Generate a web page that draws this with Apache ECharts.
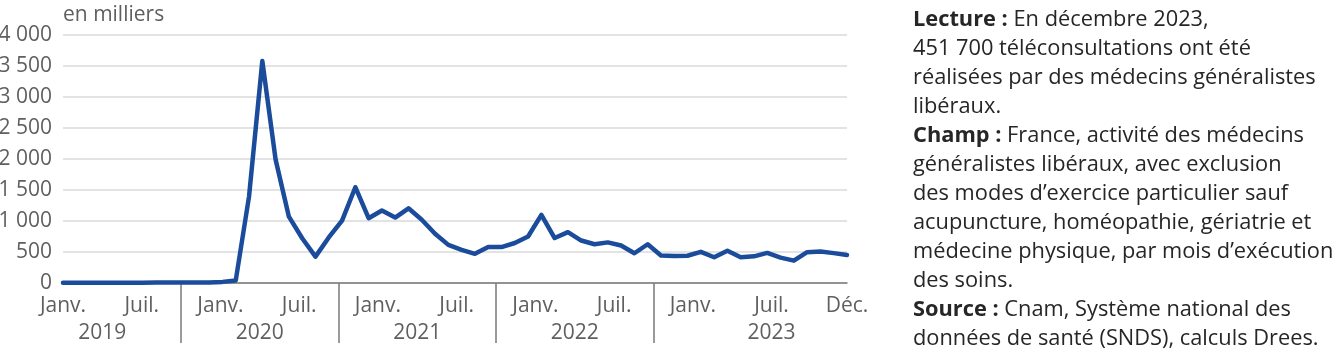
<!DOCTYPE html>
<html lang="fr">
<head>
<meta charset="utf-8">
<script src="https://cdn.jsdelivr.net/npm/echarts@6/dist/echarts.min.js"></script>
<style>
  html, body { margin: 0; padding: 0; background: #ffffff; }
  #chart { width: 1341px; height: 359px; }
</style>
</head>
<body>
<div id="chart"></div>
<script>
// ---- Data (téléconsultations des médecins généralistes libéraux, en milliers) ----
const years = ['2019', '2020', '2021', '2022', '2023'];
const monthNames = ['janv.', 'févr.', 'mars', 'avr.', 'mai', 'juin', 'juil.', 'août', 'sept.', 'oct.', 'nov.', 'déc.'];
const values2019 = [3, 4, 4, 5, 5, 6, 6, 7, 7, 8, 9, 10];
const values2020 = [18, 40, 1395, 3580, 1990, 1070, 722, 425, 735, 1005, 1545, 1045];
const values2021 = [1170, 1055, 1205, 1020, 795, 615, 535, 470, 580, 580, 645, 750];
const values2022 = [1100, 725, 820, 685, 625, 655, 605, 480, 625, 445, 435, 440];
const values2023 = [502, 415, 520, 415, 430, 485, 410, 360, 497, 507, 482, 452];
const monthTickLabels = ['Janv.', 'Juil.', 'Janv.', 'Juil.', 'Janv.', 'Juil.', 'Janv.', 'Juil.', 'Janv.', 'Juil.', 'Déc.'];
const yearTickLabels = ['2019', '2020', '2021', '2022', '2023'];
const yTickValues = [0, 500, 1000, 1500, 2000, 2500, 3000, 3500, 4000];
const unitLabel = 'en milliers';
const noteLines = [
  [['b', 'Lecture :'], ['t', ' En décembre 2023,']],
  [['t', '451 700 téléconsultations ont été']],
  [['t', 'réalisées par des médecins généralistes']],
  [['t', 'libéraux.']],
  [['b', 'Champ :'], ['t', ' France, activité des médecins']],
  [['t', 'généralistes libéraux, avec exclusion']],
  [['t', 'des modes d’exercice particulier sauf']],
  [['t', 'acupuncture, homéopathie, gériatrie et']],
  [['t', 'médecine physique, par mois d’exécution']],
  [['t', 'des soins.']],
  [['b', 'Source :'], ['t', ' Cnam, Système national des']],
  [['t', 'données de santé (SNDS), calculs Drees.']]
];

// ---- Build ----
const categories = [];
years.forEach(y => monthNames.forEach(m => categories.push(m + ' ' + y)));
const seriesValues = [].concat(values2019, values2020, values2021, values2022, values2023);

// Label axis layout (separate scale used only for tick-label placement)
const labelAxisMax = 59.75;
const monthLabelPos = [0, 6, 12, 18, 24, 30, 36, 42, 48, 54, labelAxisMax];
const yearLabelPos = [3, 15, 27, 39, 54];
const separatorPos = [9, 21, 33, 45];
const monthLabelMap = {};
monthLabelPos.forEach((p, i) => { monthLabelMap[p] = monthTickLabels[i]; });
const yearLabelMap = {};
yearLabelPos.forEach((p, i) => { yearLabelMap[p] = yearTickLabels[i]; });

const FONT = '"Open Sans", "Noto Sans", "DejaVu Sans", sans-serif';
const AXIS_COLOR = '#5f5f5f';
const LINE_COLOR = '#1b4c9c';
const AXIS_FS = 21;
const NOTE_FS = 21.8;

const noteText = noteLines.map(parts => parts.map(([k, s]) => '{' + k + '|' + s + '}').join('')).join('\n');

const chart = echarts.init(document.getElementById('chart'), null, { renderer: 'canvas' });
chart.setOption({
  animation: false,
  backgroundColor: '#ffffff',
  textStyle: { fontFamily: FONT },
  grid: { left: 63, right: 494, top: 35, bottom: 76, containLabel: false, outerBoundsMode: 'none' },
  xAxis: [
    {
      type: 'category',
      data: categories,
      boundaryGap: false,
      axisLine: { show: true, lineStyle: { color: '#7a7a7a', width: 1.5 } },
      axisTick: { show: false },
      axisLabel: { show: false },
      splitLine: { show: false }
    },
    {
      type: 'value',
      position: 'bottom',
      min: 0,
      max: labelAxisMax,
      axisLine: { show: false },
      splitLine: { show: false },
      axisTick: {
        show: true,
        customValues: separatorPos,
        length: 60,
        lineStyle: { color: '#7a7a7a', width: 1.5 }
      },
      axisLabel: {
        show: true,
        customValues: monthLabelPos,
        formatter: v => monthLabelMap[v] || '',
        fontFamily: FONT,
        fontSize: AXIS_FS,
        color: AXIS_COLOR,
        margin: 13,
        showMinLabel: true,
        showMaxLabel: true
      }
    },
    {
      type: 'value',
      position: 'bottom',
      min: 0,
      max: labelAxisMax,
      axisLine: { show: false },
      splitLine: { show: false },
      axisTick: { show: false },
      axisLabel: {
        show: true,
        customValues: yearLabelPos,
        formatter: v => yearLabelMap[v] || '',
        fontFamily: FONT,
        fontSize: AXIS_FS,
        color: AXIS_COLOR,
        margin: 39.5
      }
    }
  ],
  yAxis: {
    type: 'value',
    min: yTickValues[0],
    max: yTickValues[yTickValues.length - 1],
    interval: yTickValues[1] - yTickValues[0],
    axisLine: { show: false },
    axisTick: { show: false },
    splitLine: { show: true, lineStyle: { color: '#dadada', width: 1.5 } },
    axisLabel: {
      fontFamily: FONT,
      fontSize: AXIS_FS,
      color: AXIS_COLOR,
      margin: 11,
      formatter: v => String(v).replace(/\B(?=(\d{3})+(?!\d))/g, ' ')
    }
  },
  series: [{
    type: 'line',
    xAxisIndex: 0,
    data: seriesValues,
    symbol: 'none',
    smooth: false,
    z: 5,
    lineStyle: { color: LINE_COLOR, width: 4.5, cap: 'round', join: 'round' }
  }],
  graphic: [
    {
      type: 'text',
      x: 63,
      y: 15,
      style: {
        text: unitLabel,
        font: AXIS_FS + 'px ' + FONT,
        fill: AXIS_COLOR,
        align: 'left',
        verticalAlign: 'middle'
      }
    },
    {
      type: 'text',
      x: 913,
      y: 5.5,
      style: {
        text: noteText,
        align: 'left',
        verticalAlign: 'top',
        lineHeight: 29,
        rich: {
          b: { fontFamily: FONT, fontSize: NOTE_FS, fontWeight: 'bold', fill: '#262626', lineHeight: 29 },
          t: { fontFamily: FONT, fontSize: NOTE_FS, fill: '#262626', lineHeight: 29 }
        }
      }
    }
  ]
});
</script>
</body>
</html>
